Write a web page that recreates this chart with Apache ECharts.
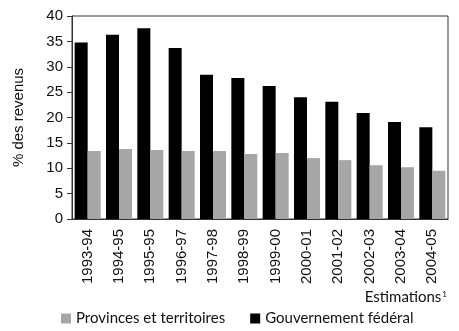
<!DOCTYPE html>
<html>
<head>
<meta charset="utf-8">
<script src="https://cdn.jsdelivr.net/npm/echarts@6/dist/echarts.min.js"></script>
<style>
  html, body { margin: 0; padding: 0; background: #fff; }
  #chart { width: 459px; height: 331px; }
</style>
</head>
<body>
<div id="chart"></div>
<script>
// Fiscal years shown on the category axis
const years = ['1993-94', '1994-95', '1995-95', '1996-97', '1997-98', '1998-99',
               '1999-00', '2000-01', '2001-02', '2002-03', '2003-04', '2004-05'];

// Share of revenues (%) — federal government
const federal = [34.8, 36.3, 37.6, 33.7, 28.4, 27.8, 26.2, 24.0, 23.1, 20.9, 19.1, 18.1];

// Share of revenues (%) — provinces and territories
const provinces = [13.4, 13.8, 13.6, 13.4, 13.4, 12.8, 13.0, 12.0, 11.6, 10.6, 10.2, 9.5];

const yTicks = [0, 5, 10, 15, 20, 25, 30, 35, 40];

const axisFont = '"Liberation Sans", Arial, sans-serif';
const textFont = 'Lato, "Open Sans", sans-serif';
const chart = echarts.init(document.getElementById('chart'), null, { renderer: 'canvas' });

chart.setOption({
  animation: false,
  grid: {
    left: 72, top: 16, right: 11, bottom: 112,
    show: true, borderColor: '#333', borderWidth: 1
  },
  legend: {
    data: ['Provinces et territoires', 'Gouvernement fédéral'],
    left: 56, top: 306,
    itemWidth: 10, itemHeight: 10, itemGap: 25,
    icon: 'rect',
    textStyle: { fontFamily: textFont, fontSize: 15, color: '#111' }
  },
  graphic: [{
    type: 'text',
    right: 12, top: 290,
    style: {
      text: 'Estimations{sup|1}',
      fontFamily: textFont, fontSize: 15, fill: '#111',
      rich: {
        sup: { fontFamily: textFont, fontSize: 8, verticalAlign: 'top', padding: [0, 0, 6, 1], fill: '#111' }
      }
    }
  }],
  xAxis: {
    type: 'category',
    data: years,
    axisLine: { lineStyle: { color: '#333', width: 1 } },
    axisTick: { show: false },
    axisLabel: {
      rotate: 90, interval: 0, margin: 10,
      fontFamily: axisFont, fontSize: 15, color: '#111'
    }
  },
  yAxis: {
    type: 'value',
    min: yTicks[0], max: yTicks[yTicks.length - 1], interval: 5,
    name: '% des revenus',
    nameLocation: 'middle', nameGap: 46, nameRotate: 90,
    nameTextStyle: { fontFamily: axisFont, fontSize: 15, color: '#111' },
    axisLine: { show: true, lineStyle: { color: '#333', width: 1 } },
    axisTick: { show: true, length: 5, lineStyle: { color: '#333' } },
    splitLine: { show: false },
    axisLabel: { margin: 9, fontFamily: axisFont, fontSize: 15, color: '#111' }
  },
  series: [
    {
      name: 'Gouvernement fédéral', type: 'bar', data: federal,
      itemStyle: { color: '#000' },
      barGap: '0%', barCategoryGap: '17%'
    },
    {
      name: 'Provinces et territoires', type: 'bar', data: provinces,
      itemStyle: { color: '#a6a6a6' },
      barGap: '0%', barCategoryGap: '17%'
    }
  ]
});
</script>
</body>
</html>
